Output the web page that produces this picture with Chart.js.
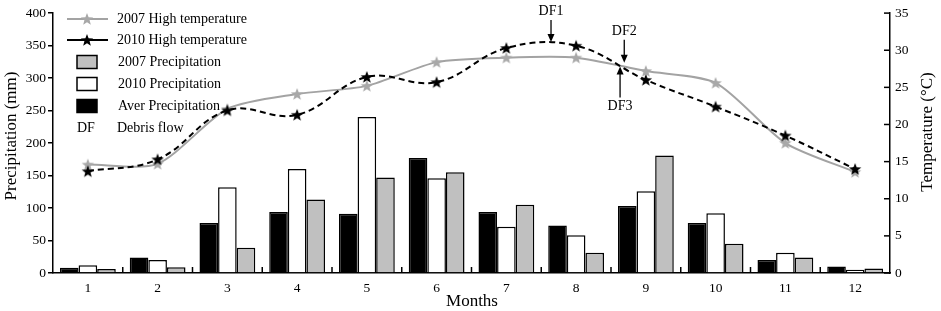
<!DOCTYPE html>
<html>
<head>
<meta charset="utf-8">
<script src="https://cdn.jsdelivr.net/npm/chart.js@4/dist/chart.umd.min.js"></script>
<style>
  html, body { margin: 0; padding: 0; background: #fff; }
  #wrap { width: 941px; height: 311px; position: relative; }
</style>
</head>
<body>
<div id="wrap"><canvas id="chart"></canvas></div>
<script>
// values
const months = ['1', '2', '3', '4', '5', '6', '7', '8', '9', '10', '11', '12'];
const averPrecip = [8, 24, 77, 94, 91, 177, 94, 73, 103, 77, 20, 10];
const precip2010 = [12, 20, 132, 160, 240, 146, 71, 58, 126, 92, 31, 5];
const precip2007 = [6, 9, 39, 113, 147, 155, 105, 31, 181, 45, 24, 7];
const highTemp2007 = [14.6, 14.7, 22.1, 24.1, 25.2, 28.4, 29.0, 29.0, 27.2, 25.6, 17.5, 13.6];
const highTemp2010 = [13.7, 15.3, 21.9, 21.3, 26.4, 25.7, 30.3, 30.6, 26.0, 22.4, 18.5, 14.0];

// debris flow markers: label, month position (index), temperature at arrow tip, direction
const dfLabels = ['DF1', 'DF2', 'DF3'];
const dfIndex = [6.64, 7.69, 7.63];
const dfTemp = [31.1, 28.3, 27.8];
const dfDir = ['down', 'down', 'up'];

const FONT = 'Liberation Serif, Times New Roman, serif';
const GRAY_LINE = '#a3a3a3';
const GRAY_BAR = '#c0c0c0';

function makeStar(fill, size) {
    const c = document.createElement('canvas');
    c.width = size;
    c.height = size;
    const ctx = c.getContext('2d');
    const cx = size / 2, cy = size / 2 + 0.5;
    const R = size / 2 - 0.5, r = R * 0.42;
    ctx.beginPath();
    for (let i = 0; i < 10; i++) {
        const rad = i % 2 === 0 ? R : r;
        const a = -Math.PI / 2 + i * Math.PI / 5;
        const px = cx + rad * Math.cos(a), py = cy + rad * Math.sin(a);
        if (i === 0) ctx.moveTo(px, py); else ctx.lineTo(px, py);
    }
    ctx.closePath();
    ctx.fillStyle = fill;
    ctx.fill();
    return c;
}

const starGray = makeStar('#a8a8a8', 14);
const starBlack = makeStar('#000', 14);

const overlay = {
    id: 'overlay',
    afterDraw(chart) {
        const ctx = chart.ctx;
        const x = chart.scales.x, yT = chart.scales.yT;
        const area = chart.chartArea;
        ctx.save();
        ctx.strokeStyle = '#000';
        ctx.lineWidth = 1.5;

        // inward ticks on the month axis, between the groups
        for (let i = 1; i < months.length; i++) {
            const px = (x.getPixelForValue(i - 1) + x.getPixelForValue(i)) / 2;
            ctx.beginPath();
            ctx.moveTo(px, area.bottom);
            ctx.lineTo(px, area.bottom - 6);
            ctx.stroke();
        }
        // inward ticks on the temperature axis
        yT.ticks.forEach(t => {
            const py = yT.getPixelForValue(t.value);
            ctx.beginPath();
            ctx.moveTo(area.right, py);
            ctx.lineTo(area.right - 6, py);
            ctx.stroke();
        });

        // axis titles
        ctx.fillStyle = '#000';
        ctx.font = '17px ' + FONT;
        ctx.textAlign = 'center';
        ctx.textBaseline = 'middle';
        ctx.fillText('Months', 472, 302);
        ctx.save();
        ctx.translate(12, 136);
        ctx.rotate(-Math.PI / 2);
        ctx.fillText('Precipitation (mm)', 0, 0);
        ctx.restore();
        ctx.save();
        ctx.translate(928, 132);
        ctx.rotate(-Math.PI / 2);
        ctx.fillText('Temperature (\u00B0C)', 0, 0);
        ctx.restore();

        // legend
        ctx.font = '14px ' + FONT;
        ctx.textAlign = 'left';
        ctx.lineWidth = 2;
        ctx.strokeStyle = GRAY_LINE;
        ctx.beginPath(); ctx.moveTo(67, 19); ctx.lineTo(108, 19); ctx.stroke();
        ctx.drawImage(starGray, 87 - 7, 19 - 7);
        ctx.fillText('2007 High temperature', 117, 19);
        ctx.strokeStyle = '#000';
        ctx.beginPath(); ctx.moveTo(67, 40); ctx.lineTo(108, 40); ctx.stroke();
        ctx.drawImage(starBlack, 87 - 7, 40 - 7);
        ctx.fillText('2010 High temperature', 117, 40);
        const boxes = [[GRAY_BAR, '2007 Precipitation', 62], ['#fff', '2010 Precipitation', 84], ['#000', 'Aver Precipitation', 106]];
        ctx.lineWidth = 1.5;
        boxes.forEach(b => {
            ctx.fillStyle = b[0];
            ctx.fillRect(77, b[2] - 6.5, 20, 13);
            ctx.strokeRect(77, b[2] - 6.5, 20, 13);
            ctx.fillStyle = '#000';
            ctx.fillText(b[1], 118, b[2]);
        });
        ctx.fillText('DF', 77, 128);
        ctx.fillText('Debris flow', 117, 128);

        // debris flow arrows
        ctx.textAlign = 'center';
        ctx.lineWidth = 1.3;
        const lens = [22, 23, 31];
        dfLabels.forEach((lab, i) => {
            const px = x.getPixelForValue(dfIndex[i]);
            const tip = yT.getPixelForValue(dfTemp[i]);
            const s = dfDir[i] === 'down' ? -1 : 1;
            const tail = tip + s * lens[i];
            ctx.beginPath();
            ctx.moveTo(px, tail);
            ctx.lineTo(px, tip + s * 7);
            ctx.stroke();
            ctx.beginPath();
            ctx.moveTo(px, tip);
            ctx.lineTo(px - 3.5, tip + s * 8);
            ctx.lineTo(px + 3.5, tip + s * 8);
            ctx.closePath();
            ctx.fill();
            ctx.fillText(lab, px, tail + s * 9);
        });
        ctx.restore();
    }
};

new Chart(document.getElementById('chart'), {
    data: {
        labels: months,
        datasets: [
            {
                type: 'line', label: '2010 High temperature', data: highTemp2010, yAxisID: 'yT', order: 0,
                borderColor: '#000', borderWidth: 2, borderDash: [6, 4], tension: 0.4,
                pointStyle: starBlack, pointRadius: 7
            },
            {
                type: 'line', label: '2007 High temperature', data: highTemp2007, yAxisID: 'yT', order: 1,
                borderColor: GRAY_LINE, borderWidth: 2, tension: 0.25,
                pointStyle: starGray, pointRadius: 7
            },
            {
                type: 'bar', label: 'Aver Precipitation', data: averPrecip, yAxisID: 'y', order: 2,
                backgroundColor: '#000', borderColor: '#000', borderWidth: 1.5
            },
            {
                type: 'bar', label: '2010 Precipitation', data: precip2010, yAxisID: 'y', order: 2,
                backgroundColor: '#fff', borderColor: '#000', borderWidth: 1.5
            },
            {
                type: 'bar', label: '2007 Precipitation', data: precip2007, yAxisID: 'y', order: 2,
                backgroundColor: GRAY_BAR, borderColor: '#000', borderWidth: 1.5
            }
        ]
    },
    options: {
        responsive: true,
        maintainAspectRatio: false,
        animation: false,
        layout: { padding: { top: 10, left: 0, right: 0, bottom: 0 } },
        datasets: { bar: { categoryPercentage: 0.8, barPercentage: 1.0 } },
        plugins: { legend: { display: false }, tooltip: { enabled: false } },
        scales: {
            x: {
                grid: { display: false, drawTicks: false },
                border: { color: '#000', width: 1.5 },
                ticks: { color: '#000', font: { family: FONT, size: 13.5 }, padding: 7, maxRotation: 0 },
                afterFit: s => { s.height = 38; }
            },
            y: {
                position: 'left', min: 0, max: 400,
                grid: { drawOnChartArea: false, drawTicks: true, tickLength: 5, color: '#000', lineWidth: 1.5 },
                border: { color: '#000', width: 1.5 },
                ticks: { stepSize: 50, color: '#000', font: { family: FONT, size: 13.5 }, padding: 2 },
                afterFit: s => { s.width = 53; }
            },
            yT: {
                position: 'right', min: 0, max: 35,
                grid: { display: false, drawTicks: false },
                border: { color: '#000', width: 1.5 },
                ticks: { stepSize: 5, color: '#000', font: { family: FONT, size: 13.5 }, padding: 5 },
                afterFit: s => { s.width = 51; }
            }
        }
    },
    plugins: [overlay]
});
</script>
</body>
</html>
